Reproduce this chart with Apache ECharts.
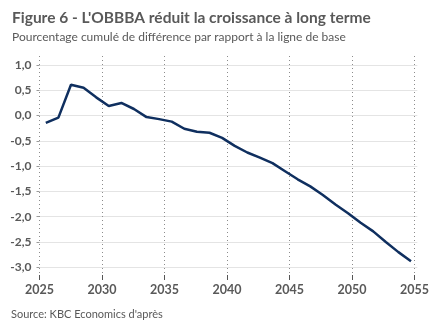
<!DOCTYPE html>
<html>
<head>
<meta charset="utf-8">
<script src="https://cdn.jsdelivr.net/npm/echarts@6/dist/echarts.min.js"></script>
<style>html,body{margin:0;padding:0;background:#fff}#c{width:432px;height:334px}</style>
</head>
<body>
<div id="c"></div>
<script>
var titleText = "Figure 6 - L'OBBBA réduit la croissance à long terme";
var subtitleText = "Pourcentage cumulé de différence par rapport à la ligne de base";
var sourceText = "Source: KBC Economics d'après";
var years = [2025,2026,2027,2028,2029,2030,2031,2032,2033,2034,2035,2036,2037,2038,2039,2040,2041,2042,2043,2044,2045,2046,2047,2048,2049,2050,2051,2052,2053,2054];
var values = [-0.145,-0.04,0.61,0.55,0.36,0.19,0.25,0.13,-0.03,-0.07,-0.12,-0.26,-0.32,-0.34,-0.44,-0.60,-0.73,-0.83,-0.94,-1.10,-1.26,-1.40,-1.57,-1.76,-1.93,-2.12,-2.29,-2.50,-2.70,-2.88];
var yTicks = {min: -3, max: 1, step: 0.5};
var xTicks = {min: 2025, max: 2055, step: 5};

var FONT = 'Lato';
var TXT = '#595959';
var chart = echarts.init(document.getElementById('c'), null, {renderer: 'canvas'});
chart.setOption({
  animation: false,
  backgroundColor: '#fff',
  title: [
    {text: titleText, left: 7, top: 5, textStyle: {fontFamily: FONT, fontSize: 15.5, fontWeight: 'bold', color: TXT}},
    {text: subtitleText, left: 7, top: 26, textStyle: {fontFamily: FONT, fontSize: 12, fontWeight: 'normal', color: TXT}}
  ],
  graphic: [
    {type: 'text', left: 11, top: 309, style: {text: sourceText, font: '11px ' + FONT, fill: TXT}}
  ],
  grid: [
    {left: 39.5, right: 14.7, top: 65, height: 202.3},
    {left: 39.5, right: 14.7, top: 56, height: 219}
  ],
  xAxis: [
    {type: 'category', gridIndex: 0, data: years, boundaryGap: true, show: false},
    {type: 'value', gridIndex: 1, min: xTicks.min, max: xTicks.max, interval: xTicks.step,
     axisLine: {show: false},
     axisTick: {show: true, length: 5, lineStyle: {color: '#555', width: 1}},
     splitLine: {show: true, lineStyle: {color: '#8c8c8c', type: [1, 3], width: 1}},
     axisLabel: {margin: 8, fontFamily: FONT, fontSize: 12.5, fontWeight: 'bold', color: TXT,
       formatter: function(v){return String(v);}}}
  ],
  yAxis: [
    {type: 'value', gridIndex: 0, min: yTicks.min, max: yTicks.max, interval: yTicks.step,
     axisLine: {show: false},
     axisTick: {show: true, length: 3, lineStyle: {color: '#999'}},
     splitLine: {show: true, lineStyle: {color: '#e4e4e4', width: 1}},
     axisLabel: {margin: 8, fontFamily: FONT, fontSize: 12, fontWeight: 'bold', color: TXT,
       formatter: function(v){return v.toFixed(1).replace('.', ',');}}},
    {type: 'value', gridIndex: 1, min: 0, max: 1, show: false}
  ],
  series: [
    {type: 'line', xAxisIndex: 0, yAxisIndex: 0, data: values, symbol: 'none', smooth: false,
     lineStyle: {color: '#0f2f5f', width: 2.5}, itemStyle: {color: '#0f2f5f'}}
  ]
});
</script>
</body>
</html>
